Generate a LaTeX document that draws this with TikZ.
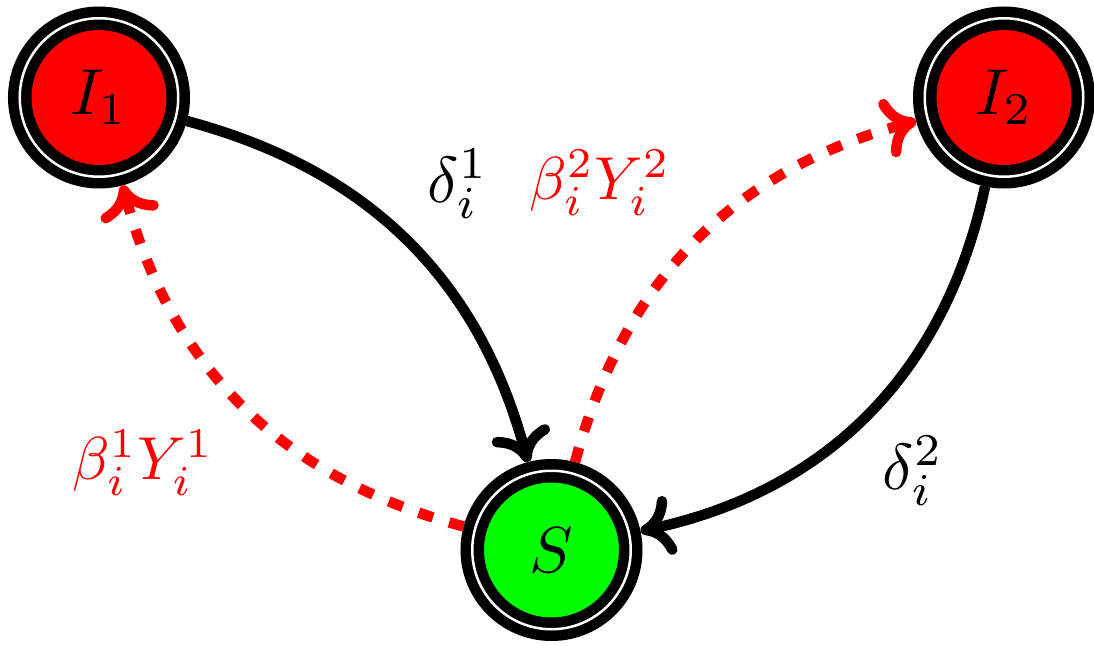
\documentclass[tikz,border=0pt]{standalone}
\usepackage{graphicx}
\usetikzlibrary{arrows.meta}
\newcommand{\zoomtxt}[1]{\scalebox{3.7}{$#1$}}
\newcommand{\ratetxt}[1]{\scalebox{3.45}{$#1$}}
\tikzset{
  compartment/.style={circle, draw=black, line width=2.1mm, double=white, double distance=0.5mm, minimum size=31.7mm, inner sep=0pt, outer sep=2.35mm},
  infbox/.style={compartment, fill=red},
  susbox/.style={compartment, fill=green},
  recov/.style={-{Computer Modern Rightarrow[length=6.5mm, width=12mm, round]}, line width=2.1mm, draw=black},
  infect/.style={recov, draw=red, dash pattern=on 3mm off 3.4mm},
  lbl/.style={inner sep=0pt}
}
\begin{document}
\begin{tikzpicture}
  \useasboundingbox (-11.03,-1.9) rectangle (10.85,11.0);
  \node[susbox] (S) at (0,0) {\zoomtxt{S}};
  \node[infbox] (I1) at (-9.05,9.05) {\zoomtxt{I_1}};
  \node[infbox] (I2) at (9.05,9.05) {\zoomtxt{I_2}};
  % recovery
  \draw[recov] (I1) to[bend left=30] (S);
  \draw[recov] (I2) to[bend left=33] (S);
  % infection
  \draw[infect] (S) to[bend left=30] (I1);
  \draw[infect] (S) to[bend left=30] (I2);
  \node[lbl] (d1) at (-1.87,7.32) {\zoomtxt{\delta_i^1}};
  \node[lbl] (d2) at (7.23,1.58) {\zoomtxt{\delta_i^2}};
  \node[lbl, text=red] (b1) at (-8.17,1.74) {\ratetxt{\beta_i^1 Y_i^1}};
  \node[lbl, text=red] (b2) at (0.97,7.34) {\ratetxt{\beta_i^2 Y_i^2}};
\end{tikzpicture}
\end{document}
